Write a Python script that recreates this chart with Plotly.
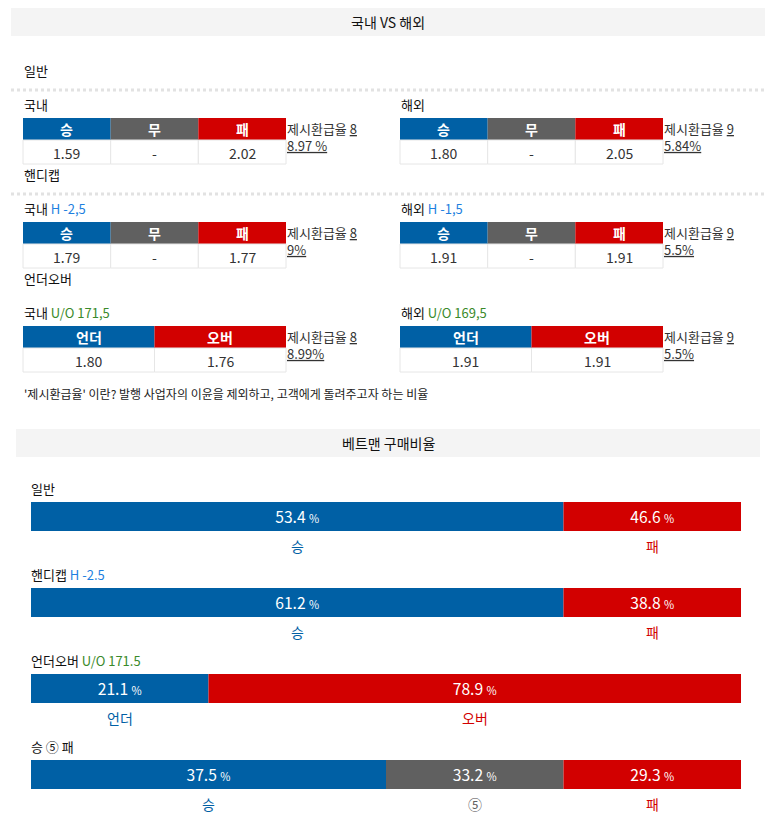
import plotly.graph_objects as go

# 국내 VS 해외 odds
odds_kinds = ["일반", "핸디캡", "언더오버"]
home_name = "국내"
away_name = "해외"
home_lines = ["", "H -2,5", "U/O 171,5"]
away_lines = ["", "H -1,5", "U/O 169,5"]
outcome3 = ["승", "무", "패"]
outcome2 = ["언더", "오버"]
home_odds = [[1.59, None, 2.02], [1.79, None, 1.77], [1.80, 1.76]]
away_odds = [[1.80, None, 2.05], [1.91, None, 1.91], [1.91, 1.91]]
home_payout = ["88.97 %", "89%", "88.99%"]
away_payout = ["95.84%", "95.5%", "95.5%"]
note = "'제시환급율' 이란? 발행 사업자의 이윤을 제외하고, 고객에게 돌려주고자 하는 비율"

# 베트맨 구매비율
buy_kinds = ["일반", "핸디캡", "언더오버", "승 ⑤ 패"]
buy_lines = ["", "H -2.5", "U/O 171.5", ""]
buy_labels = [["승", "패"], ["승", "패"], ["언더", "오버"], ["승", "⑤", "패"]]
buy_pct = [[53.4, 46.6], [61.2, 38.8], [21.1, 78.9], [37.5, 33.2, 29.3]]

FONT = "Noto Sans CJK KR"
BLUE = "#0060a5"
GRAY = "#606060"
RED = "#d20000"
colmap = {"승": BLUE, "언더": BLUE, "무": GRAY, "⑤": GRAY, "패": RED, "오버": RED}
line_col = {"H": "#1e7fe0", "U": "#3a8a2a"}

fig = go.Figure()
shapes = []
ann = []


def text(x, y, s, size=13, color="#111", xa="left", bold=False):
    if bold:
        s = "<b>" + s + "</b>"
    ann.append(dict(x=x, y=y, text=s, showarrow=False, xanchor=xa, yanchor="middle",
                    align=xa if xa != "center" else "center", borderpad=0,
                    font=dict(family=FONT, size=size, color=color)))


def label(name, extra):
    if not extra:
        return name
    return name + " " + "<span style='color:%s'>%s</span>" % (line_col[extra[0]], extra)


# section 1 header
shapes.append(dict(type="rect", x0=11, x1=765, y0=8, y1=36, fillcolor="#f4f4f4", line_width=0))
text(388, 22, "국내 VS 해외", size=14, xa="center")

for i, kind in enumerate(odds_kinds):
    t = 104 * i
    text(23, 70 + t, kind)
    if i < 2:
        shapes.append(dict(type="line", x0=11, x1=765, y0=90 + t, y1=90 + t,
                           line=dict(color="#e2e2e2", width=3, dash="dot")))
    heads = outcome3 if len(home_odds[i]) == 3 else outcome2
    for left, name, extra, odds, pay in [(23, home_name, home_lines[i], home_odds[i], home_payout[i]),
                                          (400, away_name, away_lines[i], away_odds[i], away_payout[i])]:
        text(left, 104 + t, label(name, extra))
        w = 263 / len(heads)
        for j, h in enumerate(heads):
            x0 = left + w * j
            shapes.append(dict(type="rect", x0=x0, x1=x0 + w, y0=118 + t, y1=140 + t,
                               fillcolor=colmap[h], line_width=0))
            shapes.append(dict(type="rect", x0=x0, x1=x0 + w, y0=140 + t, y1=164 + t,
                               fillcolor="white", line=dict(color="#e6e6e6", width=1)))
            text(x0 + w / 2, 129 + t, h, size=14, color="white", xa="center", bold=True)
            v = odds[j]
            text(x0 + w / 2, 152.5 + t, "-" if v is None else "%.2f" % v, size=14, color="#333", xa="center")
        text(left + 263, 137 + t, "제시환급율 <u>%s</u><br><u>%s</u>" % (pay[0], pay[1:]), color="#333")

text(23, 393, note, size=12, color="#222")

# section 2 header
shapes.append(dict(type="rect", x0=16, x1=760, y0=429, y1=457, fillcolor="#f4f4f4", line_width=0))
text(388, 443, "베트맨 구매비율", size=14, xa="center")

bx0, bx1 = 31, 741
ys, xs, bases, cols, txts = [], [], [], [], []
for i, kind in enumerate(buy_kinds):
    top = 502 + 86 * i
    text(30, top - 14, label(kind, buy_lines[i]))
    vals = buy_pct[i]
    # every segment gets one column of four, the biggest share takes the rest
    units = [1] * len(vals)
    units[vals.index(max(vals))] = 4 - (len(vals) - 1)
    unit = (bx1 - bx0) / 4
    start = bx0
    for lab, v, u in zip(buy_labels[i], vals, units):
        ys.append(top + 14.5)
        xs.append(u * unit)
        bases.append(start)
        cols.append(colmap[lab])
        txts.append("%.1f <span style='font-size:12px'>%%</span>" % v)
        text(start + u * unit / 2, top + 44, lab, size=14, color=colmap[lab], xa="center")
        start += u * unit

fig.add_trace(go.Bar(y=ys, x=xs, base=bases, orientation="h", width=29,
                     marker=dict(color=cols, line_width=0), text=txts,
                     textposition="inside", insidetextanchor="middle",
                     textfont=dict(family=FONT, size=17, color="white"),
                     hoverinfo="skip", showlegend=False))

# the page body has an 8px margin, so the plot starts at 8,8 in the window
fig.update_layout(width=766, height=813, margin=dict(l=0, r=0, t=0, b=0),
                  paper_bgcolor="white", plot_bgcolor="white",
                  shapes=shapes, annotations=ann, showlegend=False,
                  xaxis=dict(range=[8, 774], visible=False, fixedrange=True),
                  yaxis=dict(range=[821, 8], visible=False, fixedrange=True))
fig.write_html("out.html", config={"displayModeBar": False})
